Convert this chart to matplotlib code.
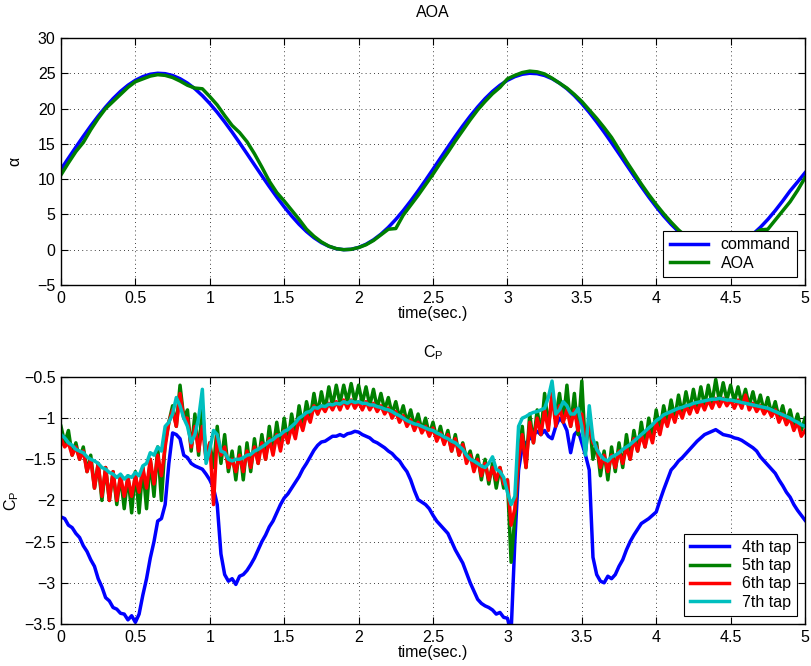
import numpy as np
import matplotlib
matplotlib.use("Agg")
import matplotlib.pyplot as plt

plt.rcParams["font.family"] = ["Liberation Sans", "DejaVu Sans"]
plt.rcParams["font.size"] = 11.5

# --- AOA panel data (sampled every 0.05 s) ---
t_aoa = np.linspace(0, 5, 101)
alpha_command = [
    11.40, 12.97, 14.53, 16.06, 17.54, 18.93, 20.22, 21.40, 22.43, 23.30,
    24.00, 24.52, 24.86, 25.00, 24.94, 24.68, 24.23, 23.60, 22.80, 21.83,
    20.71, 19.46, 18.10, 16.66, 15.15, 13.60, 12.03, 10.47, 8.94, 7.46,
    6.07, 4.78, 3.60, 2.57, 1.70, 1.00, 0.48, 0.14, 0.00, 0.06,
    0.32, 0.77, 1.40, 2.20, 3.17, 4.29, 5.54, 6.90, 8.34, 9.85,
    11.40, 12.97, 14.53, 16.06, 17.54, 18.93, 20.22, 21.40, 22.43, 23.30,
    24.00, 24.52, 24.86, 25.00, 24.94, 24.68, 24.23, 23.60, 22.80, 21.83,
    20.71, 19.46, 18.10, 16.66, 15.15, 13.60, 12.03, 10.47, 8.94, 7.46,
    6.07, 4.78, 3.60, 2.57, 1.70, 1.00, 0.48, 0.14, 0.00, 0.06,
    0.32, 0.77, 1.40, 2.20, 3.17, 4.29, 5.54, 6.90, 8.34, 9.60,
    10.90,
]
alpha_aoa = [
    10.6, 12.3, 13.9, 15.2, 17.0, 18.6, 20.0, 21.0, 22.0, 23.0,
    23.8, 24.2, 24.6, 24.8, 24.7, 24.4, 23.9, 23.3, 22.9, 22.8,
    21.7, 20.5, 19.0, 17.6, 16.6, 15.3, 13.6, 11.7, 9.7, 8.1,
    6.9, 5.6, 4.3, 2.9, 1.9, 1.1, 0.5, 0.15, 0.0, 0.05,
    0.3, 0.7, 1.3, 2.1, 2.9, 3.0, 4.9, 6.3, 7.7, 9.2,
    10.7, 12.3, 13.8, 15.4, 16.9, 18.4, 19.8, 21.0, 22.1, 23.0,
    24.2, 24.7, 25.1, 25.3, 25.2, 24.9, 24.3, 23.6, 22.9, 22.0,
    21.0, 19.8, 18.6, 17.3, 15.9, 14.2, 12.5, 10.9, 9.3, 7.8,
    6.4, 5.1, 3.9, 2.8, 1.9, 1.2, 0.6, 0.25, 0.05, 0.1,
    0.4, 0.9, 1.5, 2.2, 2.8, 2.9, 4.2, 5.5, 6.8, 8.4,
    10.2,
]

# --- Cp panel data (sampled every 0.025 s) ---
t_cp = np.linspace(0, 5, 201)
cp_tap4 = [
    -2.20, -2.22, -2.30, -2.33, -2.40, -2.45, -2.55, -2.62, -2.72, -2.80,
    -2.95, -3.05, -3.18, -3.22, -3.30, -3.32, -3.37, -3.38, -3.45, -3.40,
    -3.48, -3.38, -3.15, -2.95, -2.70, -2.50, -2.25, -2.22, -2.05, -1.55,
    -1.18, -1.20, -1.25, -1.45, -1.48, -1.55, -1.58, -1.60, -1.62, -1.68,
    -1.75, -1.85, -2.05, -2.65, -2.90, -2.98, -2.95, -3.02, -2.92, -2.90,
    -2.85, -2.78, -2.70, -2.60, -2.50, -2.42, -2.32, -2.25, -2.15, -2.05,
    -1.97, -1.92, -1.85, -1.78, -1.71, -1.62, -1.55, -1.47, -1.39, -1.33,
    -1.29, -1.28, -1.25, -1.22, -1.22, -1.20, -1.22, -1.19, -1.18, -1.16,
    -1.17, -1.20, -1.22, -1.24, -1.28, -1.30, -1.33, -1.36, -1.40, -1.43,
    -1.48, -1.52, -1.59, -1.65, -1.75, -1.88, -1.99, -2.02, -2.05, -2.10,
    -2.18, -2.25, -2.30, -2.35, -2.40, -2.50, -2.60, -2.68, -2.76, -2.88,
    -3.00, -3.10, -3.20, -3.25, -3.28, -3.30, -3.33, -3.38, -3.36, -3.42,
    -3.43, -3.60, -2.50, -1.63, -1.35, -1.30, -1.25, -1.20, -1.16, -1.20,
    -1.15, -1.22, -1.25, -1.10, -1.00, -1.05, -1.15, -1.42, -1.20, -1.15,
    -1.30, -1.45, -1.63, -2.69, -2.90, -2.98, -3.00, -2.92, -2.95, -2.90,
    -2.80, -2.72, -2.60, -2.50, -2.42, -2.35, -2.28, -2.25, -2.22, -2.18,
    -2.14, -2.00, -1.87, -1.75, -1.63, -1.58, -1.52, -1.48, -1.43, -1.38,
    -1.33, -1.28, -1.24, -1.20, -1.18, -1.16, -1.14, -1.17, -1.20, -1.21,
    -1.22, -1.24, -1.25, -1.27, -1.30, -1.33, -1.36, -1.40, -1.47, -1.52,
    -1.57, -1.62, -1.67, -1.75, -1.82, -1.90, -1.96, -2.05, -2.12, -2.18,
    -2.24,
]
cp_tap5 = [
    -1.10, -1.30, -1.15, -1.45, -1.30, -1.50, -1.35, -1.65, -1.45, -1.85,
    -1.55, -2.00, -1.60, -2.00, -1.65, -2.05, -1.70, -2.10, -1.70, -2.15,
    -1.65, -2.15, -1.60, -2.10, -1.50, -1.95, -1.35, -2.00, -1.30, -1.05,
    -0.85, -1.10, -0.60, -1.00, -0.90, -1.40, -0.95, -1.45, -0.85, -1.50,
    -1.30, -1.60, -1.10, -1.55, -1.20, -1.65, -1.40, -1.75, -1.35, -1.75,
    -1.30, -1.65, -1.25, -1.55, -1.20, -1.50, -1.10, -1.40, -1.05, -1.35,
    -1.00, -1.30, -0.95, -1.20, -0.85, -1.10, -0.80, -1.00, -0.70, -0.95,
    -0.68, -0.90, -0.62, -0.85, -0.60, -0.82, -0.60, -0.80, -0.58, -0.80,
    -0.60, -0.82, -0.62, -0.85, -0.65, -0.88, -0.70, -0.90, -0.75, -0.95,
    -0.80, -1.00, -0.85, -1.05, -0.90, -1.10, -0.95, -1.15, -1.00, -1.20,
    -1.05, -1.25, -1.10, -1.30, -1.15, -1.40, -1.20, -1.45, -1.30, -1.50,
    -1.40, -1.60, -1.45, -1.75, -1.50, -1.80, -1.55, -1.85, -1.60, -1.85,
    -1.75, -2.75, -2.20, -1.50, -1.10, -1.60, -0.95, -1.30, -0.90, -1.20,
    -0.70, -1.10, -0.75, -1.00, -0.70, -1.05, -0.60, -1.10, -0.70, -1.20,
    -0.55, -1.40, -1.00, -1.50, -1.30, -1.70, -1.40, -1.75, -1.35, -1.65,
    -1.30, -1.60, -1.20, -1.50, -1.15, -1.40, -1.05, -1.35, -1.00, -1.25,
    -0.90, -1.15, -0.85, -1.05, -0.78, -1.00, -0.72, -0.95, -0.68, -0.90,
    -0.65, -0.88, -0.62, -0.85, -0.60, -0.82, -0.53, -0.80, -0.57, -0.78,
    -0.60, -0.80, -0.62, -0.82, -0.65, -0.85, -0.68, -0.88, -0.72, -0.92,
    -0.75, -0.95, -0.80, -1.00, -0.85, -1.05, -0.90, -1.10, -0.95, -1.15,
    -1.00,
]
cp_tap6 = [
    -1.25, -1.35, -1.30, -1.45, -1.35, -1.50, -1.40, -1.65, -1.50, -1.85,
    -1.55, -1.95, -1.60, -2.00, -1.65, -2.00, -1.70, -1.95, -1.72, -1.95,
    -1.70, -1.90, -1.60, -1.85, -1.50, -1.80, -1.45, -1.70, -1.35, -1.05,
    -0.90, -1.10, -0.70, -1.00, -1.00, -1.35, -1.10, -1.40, -1.10, -1.50,
    -1.30, -2.05, -1.20, -1.45, -1.35, -1.60, -1.50, -1.65, -1.45, -1.65,
    -1.40, -1.60, -1.35, -1.55, -1.30, -1.50, -1.25, -1.45, -1.20, -1.40,
    -1.15, -1.30, -1.10, -1.25, -1.00, -1.15, -0.95, -1.05, -0.85, -0.95,
    -0.85, -0.92, -0.82, -0.90, -0.80, -0.90, -0.78, -0.88, -0.78, -0.88,
    -0.80, -0.90, -0.80, -0.90, -0.82, -0.92, -0.85, -0.95, -0.88, -1.00,
    -0.92, -1.05, -0.97, -1.10, -1.02, -1.15, -1.05, -1.18, -1.10, -1.22,
    -1.12, -1.28, -1.18, -1.32, -1.20, -1.40, -1.25, -1.45, -1.32, -1.55,
    -1.45, -1.65, -1.50, -1.70, -1.55, -1.75, -1.60, -1.75, -1.60, -1.80,
    -1.75, -2.30, -2.10, -1.50, -1.20, -1.60, -1.05, -1.30, -1.00, -1.20,
    -0.90, -1.15, -0.70, -1.10, -0.85, -1.05, -0.90, -1.10, -0.90, -1.15,
    -0.95, -1.30, -1.10, -1.30, -1.35, -1.60, -1.45, -1.65, -1.45, -1.60,
    -1.40, -1.55, -1.35, -1.50, -1.25, -1.40, -1.20, -1.35, -1.15, -1.30,
    -1.05, -1.20, -0.98, -1.10, -0.92, -1.05, -0.88, -1.00, -0.85, -0.95,
    -0.82, -0.93, -0.80, -0.90, -0.78, -0.88, -0.76, -0.86, -0.76, -0.85,
    -0.78, -0.88, -0.78, -0.88, -0.72, -0.90, -0.82, -0.92, -0.85, -0.95,
    -0.88, -0.98, -0.90, -1.05, -0.95, -1.08, -1.00, -1.15, -1.05, -1.22,
    -1.15,
]
cp_tap7 = [
    -1.20, -1.24, -1.30, -1.33, -1.38, -1.40, -1.42, -1.47, -1.50, -1.52,
    -1.55, -1.60, -1.62, -1.66, -1.68, -1.72, -1.68, -1.74, -1.70, -1.72,
    -1.66, -1.70, -1.58, -1.55, -1.42, -1.45, -1.35, -1.40, -1.10, -1.05,
    -0.95, -0.75, -0.85, -1.00, -1.10, -1.30, -1.20, -1.00, -0.65, -1.55,
    -1.38, -1.15, -1.20, -1.40, -1.42, -1.50, -1.52, -1.50, -1.50, -1.48,
    -1.45, -1.44, -1.40, -1.38, -1.35, -1.32, -1.28, -1.26, -1.22, -1.20,
    -1.16, -1.14, -1.10, -1.06, -1.00, -0.97, -0.93, -0.92, -0.87, -0.88,
    -0.85, -0.86, -0.83, -0.84, -0.82, -0.83, -0.80, -0.82, -0.79, -0.81,
    -0.80, -0.82, -0.82, -0.84, -0.84, -0.86, -0.87, -0.89, -0.90, -0.92,
    -0.95, -0.97, -1.00, -1.03, -1.05, -1.07, -1.08, -1.10, -1.12, -1.14,
    -1.15, -1.18, -1.20, -1.23, -1.25, -1.28, -1.30, -1.34, -1.38, -1.45,
    -1.50, -1.52, -1.55, -1.58, -1.60, -1.55, -1.47, -1.62, -1.65, -1.72,
    -1.90, -2.05, -1.95, -1.10, -1.00, -0.98, -0.95, -0.93, -0.92, -0.90,
    -0.88, -0.75, -0.55, -0.95, -0.90, -0.80, -0.85, -0.95, -0.95, -0.88,
    -1.10, -1.45, -0.85, -1.25, -1.38, -1.45, -1.50, -1.52, -1.47, -1.45,
    -1.42, -1.38, -1.35, -1.32, -1.28, -1.24, -1.20, -1.16, -1.12, -1.08,
    -1.03, -1.00, -0.96, -0.94, -0.92, -0.90, -0.88, -0.87, -0.85, -0.84,
    -0.82, -0.81, -0.80, -0.79, -0.78, -0.77, -0.77, -0.76, -0.77, -0.78,
    -0.78, -0.79, -0.80, -0.81, -0.82, -0.83, -0.84, -0.85, -0.86, -0.87,
    -0.88, -0.90, -0.92, -0.94, -0.96, -0.98, -1.00, -1.03, -1.05, -1.08,
    -1.10,
]

x_ticks = [0, 0.5, 1, 1.5, 2, 2.5, 3, 3.5, 4, 4.5, 5]
x_ticklabels = ["0", "0.5", "1", "1.5", "2", "2.5", "3", "3.5", "4", "4.5", "5"]
aoa_yticks = [-5, 0, 5, 10, 15, 20, 25, 30]
aoa_yticklabels = ["\u22125", "0", "5", "10", "15", "20", "25", "30"]
cp_yticks = [-3.5, -3, -2.5, -2, -1.5, -1, -0.5]
cp_yticklabels = ["\u22123.5", "\u22123", "\u22122.5", "\u22122", "\u22121.5", "\u22121", "\u22120.5"]

BLUE = (0, 0, 1)
GREEN = (0, 0.5, 0)
RED = (1, 0, 0)
CYAN = (0, 0.75, 0.75)
LW = 2.5
FS = 11.5


def style_axes(ax):
    ax.set_xlim(0, 5)
    ax.set_xticks(x_ticks)
    ax.set_xticklabels(x_ticklabels)
    ax.tick_params(direction="in", top=True, right=True, length=5, width=0.8,
                   labelsize=FS, pad=4)
    ax.grid(True, color="k", linestyle=(0, (1, 4)), linewidth=0.6)
    for s in ax.spines.values():
        s.set_linewidth(1.0)


def add_legend(ax):
    leg = ax.legend(loc="lower right", fancybox=False, edgecolor="k", framealpha=1,
                    borderaxespad=0.5, handlelength=2.4, borderpad=0.4,
                    labelspacing=0.2, fontsize=FS)
    leg.get_frame().set_linewidth(0.8)


fig = plt.figure(figsize=(8.12, 6.66), dpi=100)

ax1 = fig.add_axes([0.0751, 0.5721, 0.9163, 0.3709])
ax1.plot(t_aoa, alpha_command, color=BLUE, lw=LW, label="command")
ax1.plot(t_aoa, alpha_aoa, color=GREEN, lw=LW, label="AOA")
style_axes(ax1)
ax1.set_ylim(-5, 30)
ax1.set_yticks(aoa_yticks)
ax1.set_yticklabels(aoa_yticklabels)
ax1.set_title("AOA", fontsize=FS, pad=15)
ax1.set_xlabel("time(sec.)", fontsize=FS, labelpad=0)
ax1.set_ylabel("\u03b1", fontsize=FS, labelpad=11)
add_legend(ax1)

ax2 = fig.add_axes([0.0751, 0.0631, 0.9163, 0.3709])
ax2.plot(t_cp, cp_tap4, color=BLUE, lw=LW, label="4th tap")
ax2.plot(t_cp, cp_tap5, color=GREEN, lw=LW, label="5th tap")
ax2.plot(t_cp, cp_tap6, color=RED, lw=LW, label="6th tap")
ax2.plot(t_cp, cp_tap7, color=CYAN, lw=LW, label="7th tap")
style_axes(ax2)
ax2.set_ylim(-3.5, -0.5)
ax2.set_yticks(cp_yticks)
ax2.set_yticklabels(cp_yticklabels)
ax2.set_title("$\\mathregular{C_P}$", fontsize=FS, pad=14)
ax2.set_xlabel("time(sec.)", fontsize=FS, labelpad=0)
ax2.set_ylabel("$\\mathregular{C_P}$", fontsize=FS, labelpad=2)
add_legend(ax2)

fig.savefig("out.png", dpi=100)
